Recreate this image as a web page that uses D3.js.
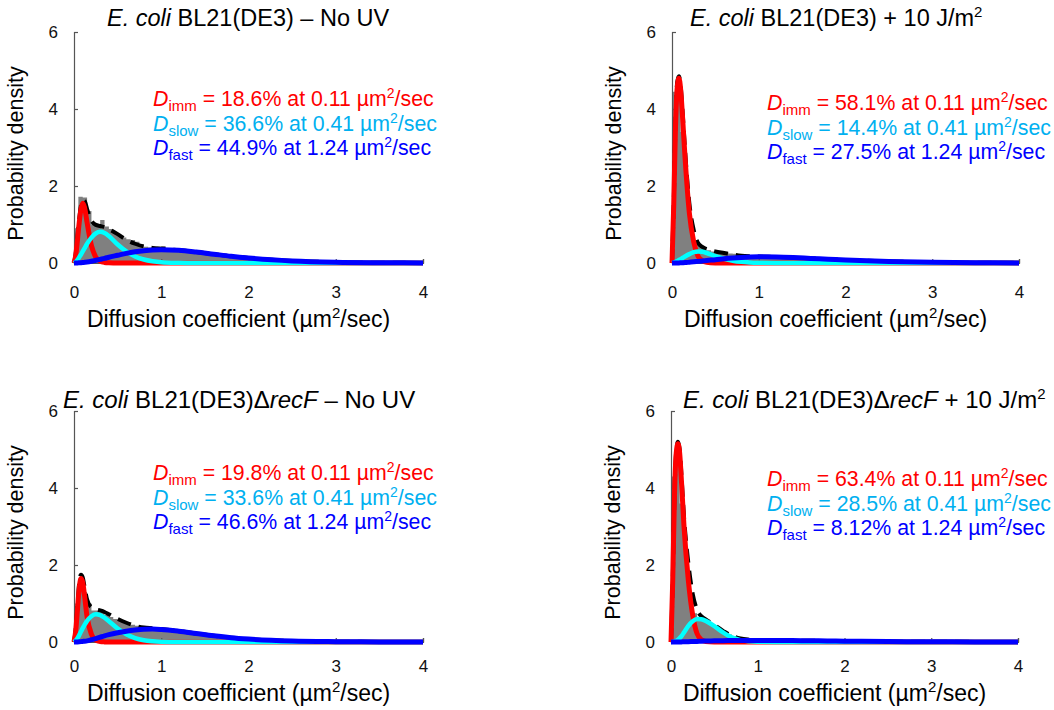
<!DOCTYPE html>
<html><head><meta charset="utf-8">
<script src="https://cdn.jsdelivr.net/npm/d3@7"></script>
<style>
html,body{margin:0;padding:0;background:#fff;}
svg{display:block;font-family:"Liberation Sans",Arial,Helvetica,sans-serif;}
</style></head>
<body>
<svg id="chart" width="1054" height="710"></svg>
<script>
// ---------- DATA ----------
const xTicks = [0, 1, 2, 3, 4];
const yTicks = [0, 2, 4, 6];
const xGrid = [0, 0.02, 0.04, 0.06, 0.08, 0.1, 0.12, 0.15, 0.2, 0.25, 0.3, 0.35, 0.4, 0.5, 0.6, 0.7, 0.8, 0.9, 1.0, 1.2, 1.4, 1.6, 1.8, 2.0, 2.5, 3.0, 3.5, 4.0];
const histBinWidth = 0.05;

// Panel 1: E. coli BL21(DE3) – No UV
const p1Imm   = [0,0.2,0.6,1.05,1.4,1.55,1.45,1.05,0.45,0.15,0.05,0.015,0.005,0,0,0,0,0,0,0,0,0,0,0,0,0,0,0];
const p1Slow  = [0,0.03,0.08,0.15,0.22,0.3,0.38,0.5,0.66,0.77,0.81,0.78,0.7,0.48,0.3,0.17,0.09,0.045,0.02,0.005,0,0,0,0,0,0,0,0];
const p1Fast  = [0,0,0.002,0.005,0.008,0.012,0.017,0.025,0.045,0.07,0.095,0.12,0.15,0.2,0.25,0.29,0.32,0.34,0.345,0.33,0.285,0.23,0.175,0.13,0.055,0.02,0.007,0.002];
const p1Total = [0,0.25,0.7,1.15,1.5,1.64,1.62,1.4,1.1,0.99,0.96,0.93,0.88,0.75,0.6,0.5,0.43,0.39,0.37,0.335,0.285,0.23,0.175,0.13,0.055,0.02,0.007,0.002];
const p1Hist  = [0.9,1.72,1.7,1.35,1.0,1.0,1.12,0.95,0.88,0.8,
                 0.72,0.66,0.62,0.6,0.55,0.48,0.42,0.4,0.37,0.42,
                 0.44,0.35,0.32,0.31,0.3,0.29,0.28,0.27,0.26,0.25,
                 0.3,0.24,0.21,0.2,0.18,0.17,0.16,0.2,0.14,0.12,
                 0.11,0.1,0.09,0.08,0.07,0.07,0.06,0.05,0.05,0.04,
                 0.04,0.09,0.03,0.03,0.02,0.02,0.02,0.02,0.01,0.01];

// Panel 2: E. coli BL21(DE3) + 10 J/m2
const p2Imm   = [0,1.5,3.5,4.55,4.8,4.5,3.85,2.75,1.3,0.55,0.18,0.06,0.02,0.003,0,0,0,0,0,0,0,0,0,0,0,0,0,0];
const p2Slow  = [0,0.01,0.03,0.05,0.08,0.1,0.13,0.17,0.23,0.28,0.3,0.29,0.26,0.18,0.11,0.06,0.03,0.015,0.007,0.001,0,0,0,0,0,0,0,0];
const p2Fast  = [0,0,0.001,0.002,0.003,0.005,0.007,0.01,0.02,0.03,0.042,0.053,0.065,0.085,0.11,0.13,0.145,0.155,0.16,0.155,0.14,0.12,0.1,0.08,0.04,0.018,0.007,0.003];
const p2Total = [0,1.55,3.6,4.7,4.85,4.6,4.0,2.95,1.55,0.86,0.52,0.42,0.36,0.3,0.26,0.22,0.19,0.175,0.167,0.156,0.14,0.12,0.1,0.08,0.04,0.018,0.007,0.003];
const p2Hist  = [4.45,4.6,3.4,2.0,1.1,0.58,0.46,0.4,0.33,0.3,
                 0.28,0.3,0.27,0.25,0.24,0.21,0.2,0.19,0.18,0.17,
                 0.17,0.16,0.16,0.15,0.15,0.15,0.14,0.14,0.13,0.13,
                 0.12,0.12,0.11,0.11,0.1,0.1,0.09,0.09,0.08,0.08,
                 0.07,0.07,0.06,0.06,0.05,0.05,0.05,0.04,0.04,0.04,
                 0.03,0.03,0.03,0.02,0.02,0.02,0.02,0.01,0.01,0.01];

// Panel 3: E. coli BL21(DE3)ΔrecF – No UV
const p3Imm   = [0,0.3,0.85,1.4,1.65,1.55,1.22,0.65,0.2,0.05,0.012,0.003,0,0,0,0,0,0,0,0,0,0,0,0,0,0,0,0];
const p3Slow  = [0,0.04,0.1,0.18,0.27,0.36,0.44,0.55,0.67,0.72,0.7,0.63,0.54,0.35,0.2,0.1,0.045,0.02,0.008,0.001,0,0,0,0,0,0,0,0];
const p3Fast  = [0,0.001,0.003,0.006,0.01,0.015,0.02,0.03,0.06,0.09,0.125,0.16,0.19,0.24,0.28,0.31,0.33,0.335,0.325,0.28,0.22,0.16,0.11,0.075,0.025,0.008,0.002,0];
const p3Total = [0,0.35,0.95,1.55,1.75,1.68,1.45,1.1,0.9,0.85,0.82,0.78,0.72,0.6,0.5,0.42,0.375,0.355,0.335,0.282,0.22,0.16,0.11,0.075,0.025,0.008,0.002,0];
const p3Hist  = [1.0,1.65,1.3,1.0,0.82,0.82,0.78,0.7,0.65,0.6,
                 0.56,0.52,0.48,0.45,0.42,0.38,0.36,0.35,0.34,0.33,
                 0.31,0.3,0.29,0.28,0.27,0.25,0.24,0.22,0.21,0.19,
                 0.18,0.17,0.15,0.14,0.13,0.12,0.11,0.1,0.09,0.08,
                 0.07,0.07,0.06,0.05,0.05,0.04,0.04,0.03,0.03,0.03,
                 0.02,0.02,0.02,0.02,0.01,0.01,0.01,0.01,0.01,0.01];

// Panel 4: E. coli BL21(DE3)ΔrecF + 10 J/m2
const p4Imm   = [0,1.6,3.8,4.9,5.15,4.9,4.2,3.0,1.6,0.7,0.22,0.06,0.015,0.002,0,0,0,0,0,0,0,0,0,0,0,0,0,0];
const p4Slow  = [0,0.003,0.01,0.03,0.06,0.1,0.15,0.25,0.42,0.54,0.6,0.59,0.55,0.41,0.25,0.12,0.05,0.02,0.007,0.001,0,0,0,0,0,0,0,0];
const p4Fast  = [0,0,0,0.001,0.001,0.002,0.003,0.005,0.008,0.012,0.016,0.02,0.024,0.03,0.035,0.038,0.04,0.041,0.041,0.04,0.037,0.032,0.027,0.022,0.012,0.006,0.003,0.001];
const p4Total = [0,1.6,3.8,4.95,5.2,5.0,4.35,3.25,2.05,1.25,0.84,0.67,0.59,0.44,0.29,0.16,0.09,0.061,0.048,0.041,0.037,0.032,0.027,0.022,0.012,0.006,0.003,0.001];
const p4Hist  = [4.3,5.0,3.6,2.4,1.2,0.75,0.62,0.56,0.5,0.44,
                 0.38,0.3,0.25,0.2,0.15,0.12,0.1,0.08,0.06,0.05,
                 0.08,0.07,0.05,0.04,0.04,0.04,0.04,0.04,0.04,0.04,
                 0.03,0.03,0.03,0.03,0.03,0.03,0.03,0.03,0.02,0.02,
                 0.02,0.02,0.02,0.02,0.02,0.02,0.02,0.01,0.01,0.01,
                 0.01,0.01,0.01,0.01,0.01,0.01,0.01,0.01,0.01,0.01];

// Annotation values
const p1Pct = ["18.6%", "36.6%", "44.9%"];
const p2Pct = ["58.1%", "14.4%", "27.5%"];
const p3Pct = ["19.8%", "33.6%", "46.6%"];
const p4Pct = ["63.4%", "28.5%", "8.12%"];
const dValues = ["0.11", "0.41", "1.24"];
const dNames = ["imm", "slow", "fast"];

// ---------- LAYOUT / STYLE ----------
const colors = {imm: "#ff0000", slow: "#00ffff", fast: "#0000ff", total: "#000000", hist: "#808080"};
const textColors = ["#ff0000", "#00b0f0", "#0000ff"];

const panels = [
  {x0: 74, x1: 423, y0: 263, y1: 32, hist: p1Hist, imm: p1Imm, slow: p1Slow, fast: p1Fast, total: p1Total, pct: p1Pct,
   titleX: 107, titleY: 26, annX: 153, annY: 106, xTitleY: 327, tickPad: 29, delta: false, uv: false},
  {x0: 672, x1: 1019, y0: 263, y1: 32, hist: p2Hist, imm: p2Imm, slow: p2Slow, fast: p2Fast, total: p2Total, pct: p2Pct,
   titleX: 690, titleY: 26, annX: 767, annY: 110, xTitleY: 327, tickPad: 29, delta: false, uv: true},
  {x0: 74, x1: 423, y0: 642, y1: 411, hist: p3Hist, imm: p3Imm, slow: p3Slow, fast: p3Fast, total: p3Total, pct: p3Pct,
   titleX: 63, titleY: 408, annX: 153, annY: 480, xTitleY: 701, tickPad: 24, delta: true, uv: false},
  {x0: 671, x1: 1018, y0: 642, y1: 411, hist: p4Hist, imm: p4Imm, slow: p4Slow, fast: p4Fast, total: p4Total, pct: p4Pct,
   titleX: 683, titleY: 408, annX: 767, annY: 486, xTitleY: 701, tickPad: 24, delta: true, uv: true}
];

const svg = d3.select("#chart");

panels.forEach(p => {
  const x = d3.scaleLinear().domain([0, 4]).range([p.x0, p.x1]);
  const y = d3.scaleLinear().domain([0, 6]).range([p.y0, p.y1]);
  const g = svg.append("g");

  // histogram as a single step area
  const histPts = p.hist.map((v, i) => [i * histBinWidth, v]);
  histPts.push([p.hist.length * histBinWidth, p.hist[p.hist.length - 1]]);
  const harea = d3.area().x(d => x(d[0])).y0(y(0)).y1(d => y(d[1])).curve(d3.curveStepAfter);
  g.append("path").attr("d", harea(histPts)).attr("fill", colors.hist);

  // axes
  const yAxis = d3.axisLeft(y).tickValues(yTicks).tickSize(-4).tickPadding(16).tickFormat(d3.format("d"));
  const ya = g.append("g").attr("transform", `translate(${p.x0},0)`).call(yAxis);
  const xAxis = d3.axisBottom(x).tickValues(xTicks).tickSize(-4).tickPadding(p.tickPad).tickFormat(d3.format("d"));
  const xa = g.append("g").attr("transform", `translate(0,${p.y0})`).call(xAxis);
  [ya, xa].forEach(a => {
    a.select(".domain").attr("stroke", "#555").attr("stroke-width", 1.2);
    a.selectAll(".tick line").attr("stroke", "#555").attr("stroke-width", 1.2);
    a.selectAll(".tick text").attr("font-size", 17).attr("fill", "#111")
      .attr("font-family", "'Liberation Sans',Arial,sans-serif");
  });
  xa.selectAll(".tick text").attr("dy", "0.35em");

  // curves
  const pts = arr => xGrid.map((v, i) => [v, arr[i]]);
  const line = d3.line().x(d => x(d[0])).y(d => y(d[1])).curve(d3.curveMonotoneX);
  g.append("path").attr("d", line(pts(p.total))).attr("fill", "none")
    .attr("stroke", colors.total).attr("stroke-width", 4).attr("stroke-dasharray", "14,8");
  g.append("path").attr("d", line(pts(p.imm))).attr("fill", "none")
    .attr("stroke", colors.imm).attr("stroke-width", 5).attr("stroke-linejoin", "round");
  g.append("path").attr("d", line(pts(p.slow))).attr("fill", "none")
    .attr("stroke", colors.slow).attr("stroke-width", 4.5).attr("stroke-linejoin", "round");
  g.append("path").attr("d", line(pts(p.fast))).attr("fill", "none")
    .attr("stroke", colors.fast).attr("stroke-width", 5).attr("stroke-linejoin", "round");

  // axis titles
  const xt = svg.append("text").attr("x", (p.x0 + p.x1) / 2 - 10).attr("y", p.xTitleY)
    .attr("text-anchor", "middle").attr("font-size", 23).attr("fill", "#000");
  xt.append("tspan").text("Diffusion coefficient (µm");
  xt.append("tspan").text("2").attr("font-size", 15).attr("dy", -9);
  xt.append("tspan").text("/sec)").attr("dy", 9);

  svg.append("text").attr("transform", `translate(${p.x0 - 51},${(p.y0 + p.y1) / 2 + 6}) rotate(-90)`)
    .attr("text-anchor", "middle").attr("font-size", 21.5).attr("fill", "#000").text("Probability density");

  // panel title
  const t = svg.append("text").attr("x", p.titleX).attr("y", p.titleY)
    .attr("font-size", p.delta ? 24 : 23.5).attr("fill", "#000");
  t.append("tspan").text("E. coli").attr("font-style", "italic");
  t.append("tspan").text(" BL21(DE3)");
  if (p.delta) {
    t.append("tspan").text("Δ");
    t.append("tspan").text("recF").attr("font-style", "italic");
  }
  if (p.uv) {
    t.append("tspan").text(" + 10 J/m");
    t.append("tspan").text("2").attr("font-size", 15).attr("dy", -9);
  } else {
    t.append("tspan").text(" – No UV");
  }

  // annotations
  dNames.forEach((nm, i) => {
    const a = svg.append("text").attr("x", p.annX).attr("y", p.annY + i * 24.5)
      .attr("font-size", 21.3).attr("fill", textColors[i]);
    a.append("tspan").text("D").attr("font-style", "italic");
    a.append("tspan").text(nm).attr("font-size", 15).attr("dy", 5);
    a.append("tspan").text(` = ${p.pct[i]} at ${dValues[i]} µm`).attr("dy", -5);
    a.append("tspan").text("2").attr("font-size", 14).attr("dy", -8);
    a.append("tspan").text("/sec").attr("dy", 8);
  });
});
</script>
</body></html>
